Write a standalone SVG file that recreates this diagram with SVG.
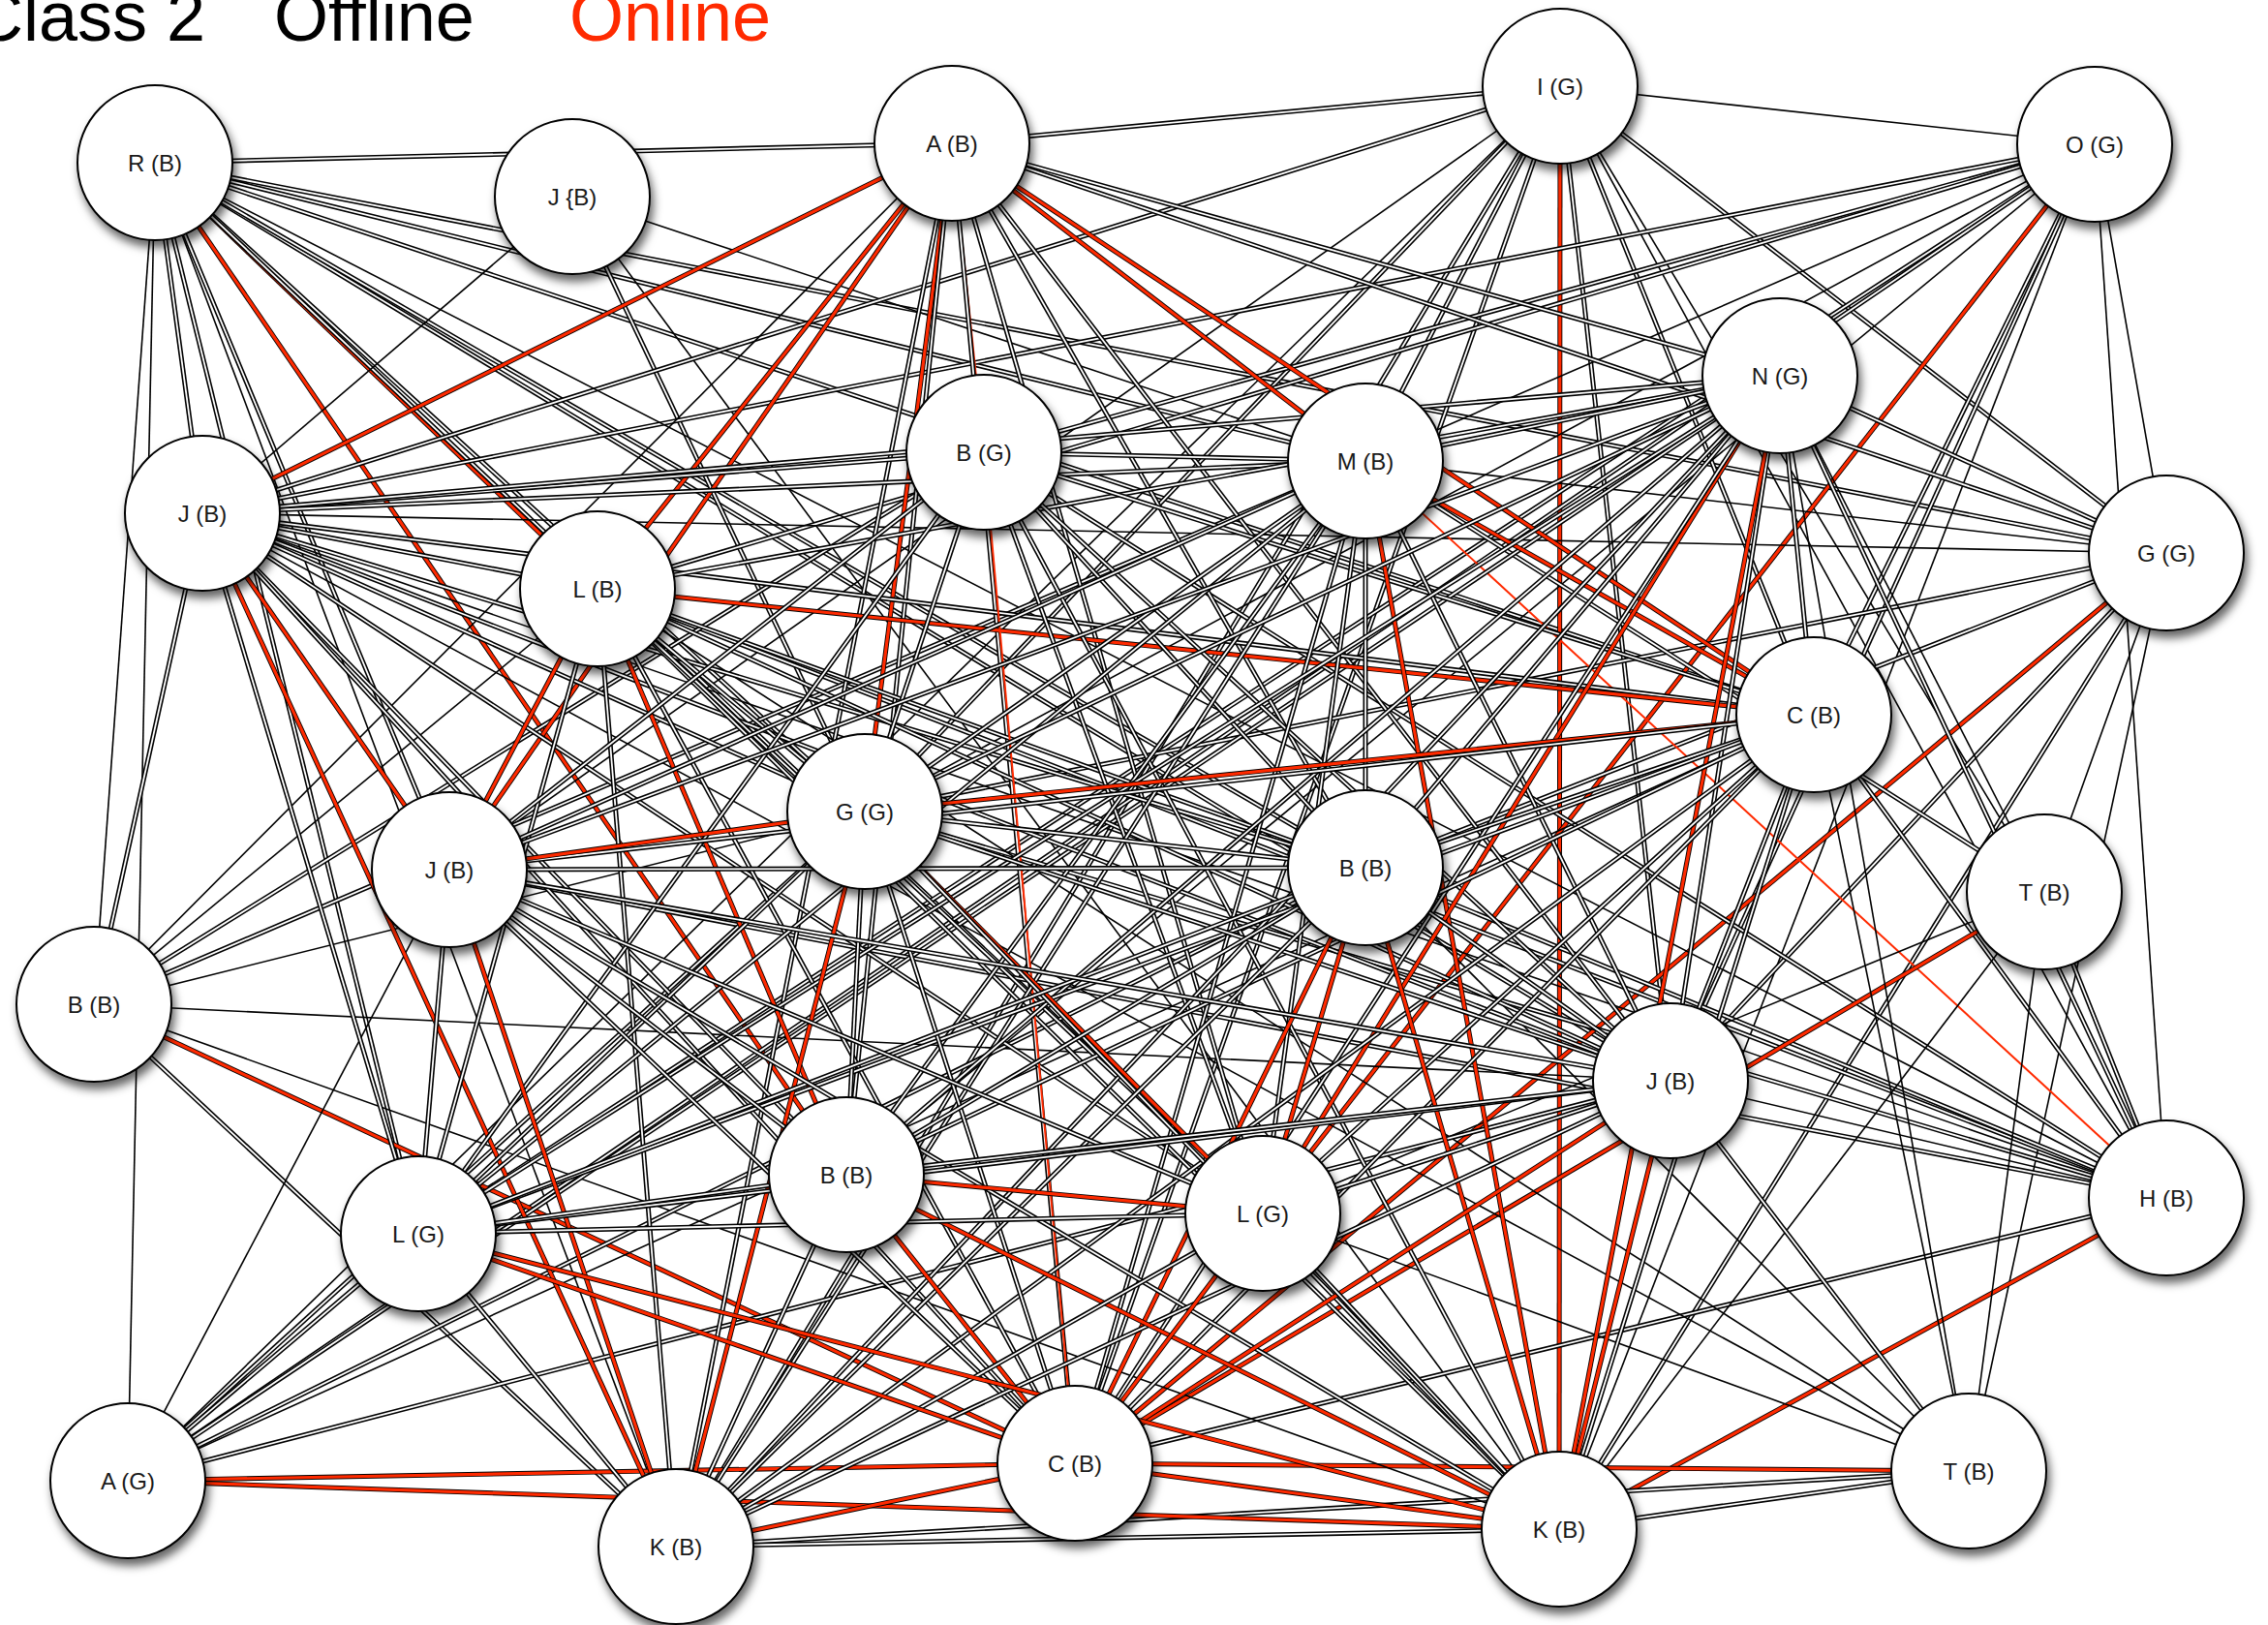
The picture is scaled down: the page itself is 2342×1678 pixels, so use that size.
<svg xmlns="http://www.w3.org/2000/svg" width="2342" height="1678" viewBox="0 0 2342 1678">
<defs>
<style>
.c{stroke:#000;stroke-width:5;fill:none}
.w{stroke:#fff;stroke-width:1.8;fill:none}
.rc{stroke:#ff2a00;stroke-width:3.2;fill:none}
.s{stroke:#000;stroke-width:1.6;fill:none}
.q{stroke:#ff2a00;stroke-width:2;fill:none}
.node circle{fill:#fff;stroke:#000;stroke-width:2;filter:url(#sh)}
.node text{font-family:"Liberation Sans",Arial,sans-serif;font-size:24px;fill:#1a1a1a;text-anchor:middle}
.title{font-family:"Liberation Sans",Arial,sans-serif;font-size:72px}
</style>
<filter id="sh" x="-30%" y="-30%" width="170%" height="170%">
<feDropShadow dx="3" dy="7" stdDeviation="5" flood-color="#000" flood-opacity="0.6"/>
</filter>
</defs>
<rect width="2342" height="1678" fill="#fff"/>
<g id="legend">
<text class="title" x="-28" y="42" fill="#000">Class 2</text>
<text class="title" x="283" y="42" fill="#000">Offline</text>
<text class="title" x="588" y="42" fill="#ff2a00">Online</text>
</g>
<g id="connectors">
<path class="c" d="M160 168L983 148"/><path class="w" d="M160 168L983 148"/>
<path class="c" d="M160 168L2237 571"/><path class="w" d="M160 168L2237 571"/>
<path class="c" d="M160 168L1410 476"/><path class="w" d="M160 168L1410 476"/>
<path class="c" d="M160 168L1873 738"/><path class="w" d="M160 168L1873 738"/>
<path class="c" d="M160 168L1725 1116"/><path class="w" d="M160 168L1725 1116"/>
<path class="c" d="M160 168L1410 896"/><path class="w" d="M160 168L1410 896"/>
<path class="c" d="M160 168L617 608"/><path class="rc" d="M160 168L617 608"/>
<path class="c" d="M160 168L893 838"/><path class="w" d="M160 168L893 838"/>
<path class="c" d="M160 168L874 1213"/><path class="rc" d="M160 168L874 1213"/>
<path class="c" d="M160 168L464 898"/><path class="w" d="M160 168L464 898"/>
<path class="s" d="M160 168L698 1597"/>
<path class="c" d="M160 168L432 1274"/><path class="w" d="M160 168L432 1274"/>
<path class="c" d="M160 168L209 530"/><path class="w" d="M160 168L209 530"/>
<path class="s" d="M160 168L97 1037"/>
<path class="s" d="M160 168L132 1529"/>
<path class="c" d="M160 168L1304 1253"/><path class="w" d="M160 168L1304 1253"/>
<path class="s" d="M591 203L1410 476"/>
<path class="c" d="M591 203L893 838"/><path class="w" d="M591 203L893 838"/>
<path class="s" d="M591 203L1610 1579"/>
<path class="s" d="M591 203L209 530"/>
<path class="c" d="M1611 89L983 148"/><path class="w" d="M1611 89L983 148"/>
<path class="c" d="M1611 89L209 530"/><path class="w" d="M1611 89L209 530"/>
<path class="s" d="M1611 89L464 898"/>
<path class="c" d="M1611 89L893 838"/><path class="w" d="M1611 89L893 838"/>
<path class="s" d="M1611 89L132 1529"/>
<path class="c" d="M1611 89L1410 476"/><path class="w" d="M1611 89L1410 476"/>
<path class="c" d="M1611 89L698 1597"/><path class="w" d="M1611 89L698 1597"/>
<path class="c" d="M1611 89L1110 1511"/><path class="w" d="M1611 89L1110 1511"/>
<path class="c" d="M1611 89L1610 1579"/><path class="rc" d="M1611 89L1610 1579"/>
<path class="c" d="M1611 89L1725 1116"/><path class="w" d="M1611 89L1725 1116"/>
<path class="c" d="M1611 89L1873 738"/><path class="w" d="M1611 89L1873 738"/>
<path class="s" d="M1611 89L2237 1237"/>
<path class="c" d="M1611 89L2237 571"/><path class="w" d="M1611 89L2237 571"/>
<path class="s" d="M1611 89L2163 149"/>
<path class="s" d="M1611 89L2111 921"/>
<path class="c" d="M2163 149L209 530"/><path class="w" d="M2163 149L209 530"/>
<path class="c" d="M2163 149L1016 467"/><path class="w" d="M2163 149L1016 467"/>
<path class="c" d="M2163 149L617 608"/><path class="w" d="M2163 149L617 608"/>
<path class="s" d="M2163 149L1410 476"/>
<path class="s" d="M2163 149L893 838"/>
<path class="c" d="M2163 149L432 1274"/><path class="w" d="M2163 149L432 1274"/>
<path class="c" d="M2163 149L132 1529"/><path class="w" d="M2163 149L132 1529"/>
<path class="s" d="M2163 149L874 1213"/>
<path class="c" d="M2163 149L1304 1253"/><path class="rc" d="M2163 149L1304 1253"/>
<path class="c" d="M2163 149L1873 738"/><path class="w" d="M2163 149L1873 738"/>
<path class="c" d="M2163 149L1725 1116"/><path class="w" d="M2163 149L1725 1116"/>
<path class="s" d="M2163 149L1610 1579"/>
<path class="s" d="M2163 149L2237 1237"/>
<path class="s" d="M2163 149L2237 571"/>
<path class="c" d="M2237 571L1838 388"/><path class="w" d="M2237 571L1838 388"/>
<path class="c" d="M2237 571L983 148"/><path class="w" d="M2237 571L983 148"/>
<path class="s" d="M2237 571L1410 476"/>
<path class="s" d="M2237 571L209 530"/>
<path class="c" d="M2237 571L893 838"/><path class="w" d="M2237 571L893 838"/>
<path class="c" d="M2237 571L1410 896"/><path class="w" d="M2237 571L1410 896"/>
<path class="c" d="M2237 571L1110 1511"/><path class="rc" d="M2237 571L1110 1511"/>
<path class="c" d="M2237 571L1725 1116"/><path class="w" d="M2237 571L1725 1116"/>
<path class="c" d="M2237 571L1610 1579"/><path class="w" d="M2237 571L1610 1579"/>
<path class="s" d="M2237 571L2033 1519"/>
<path class="s" d="M2237 571L2111 921"/>
<path class="q" d="M2237 1237L1410 476"/>
<path class="c" d="M2237 1237L1016 467"/><path class="w" d="M2237 1237L1016 467"/>
<path class="s" d="M2237 1237L160 168"/>
<path class="c" d="M2237 1237L617 608"/><path class="w" d="M2237 1237L617 608"/>
<path class="c" d="M2237 1237L1410 896"/><path class="w" d="M2237 1237L1410 896"/>
<path class="s" d="M2237 1237L209 530"/>
<path class="c" d="M2237 1237L893 838"/><path class="w" d="M2237 1237L893 838"/>
<path class="c" d="M2237 1237L464 898"/><path class="w" d="M2237 1237L464 898"/>
<path class="c" d="M2237 1237L1873 738"/><path class="w" d="M2237 1237L1873 738"/>
<path class="c" d="M2237 1237L1110 1511"/><path class="w" d="M2237 1237L1110 1511"/>
<path class="c" d="M2237 1237L1610 1579"/><path class="rc" d="M2237 1237L1610 1579"/>
<path class="c" d="M2237 1237L2111 921"/><path class="w" d="M2237 1237L2111 921"/>
<path class="s" d="M2237 1237L1725 1116"/>
<path class="s" d="M2111 921L1838 388"/>
<path class="c" d="M2111 921L1410 476"/><path class="w" d="M2111 921L1410 476"/>
<path class="c" d="M2111 921L1110 1511"/><path class="rc" d="M2111 921L1110 1511"/>
<path class="s" d="M2111 921L1304 1253"/>
<path class="s" d="M2111 921L1610 1579"/>
<path class="s" d="M2111 921L2033 1519"/>
<path class="c" d="M2033 1519L1110 1511"/><path class="rc" d="M2033 1519L1110 1511"/>
<path class="c" d="M2033 1519L1610 1579"/><path class="w" d="M2033 1519L1610 1579"/>
<path class="c" d="M2033 1519L1725 1116"/><path class="w" d="M2033 1519L1725 1116"/>
<path class="s" d="M2033 1519L617 608"/>
<path class="s" d="M2033 1519L209 530"/>
<path class="s" d="M2033 1519L1304 1253"/>
<path class="s" d="M2033 1519L1410 896"/>
<path class="s" d="M2033 1519L1873 738"/>
<path class="s" d="M2033 1519L1838 388"/>
<path class="c" d="M2033 1519L698 1597"/><path class="w" d="M2033 1519L698 1597"/>
<path class="c" d="M97 1037L209 530"/><path class="w" d="M97 1037L209 530"/>
<path class="s" d="M97 1037L983 148"/>
<path class="s" d="M97 1037L617 608"/>
<path class="c" d="M97 1037L1016 467"/><path class="w" d="M97 1037L1016 467"/>
<path class="c" d="M97 1037L1410 476"/><path class="w" d="M97 1037L1410 476"/>
<path class="s" d="M97 1037L893 838"/>
<path class="s" d="M97 1037L1725 1116"/>
<path class="c" d="M97 1037L1110 1511"/><path class="rc" d="M97 1037L1110 1511"/>
<path class="s" d="M97 1037L1610 1579"/>
<path class="c" d="M97 1037L698 1597"/><path class="w" d="M97 1037L698 1597"/>
<path class="s" d="M132 1529L464 898"/>
<path class="c" d="M132 1529L893 838"/><path class="w" d="M132 1529L893 838"/>
<path class="c" d="M132 1529L1410 896"/><path class="w" d="M132 1529L1410 896"/>
<path class="s" d="M132 1529L1873 738"/>
<path class="c" d="M132 1529L1725 1116"/><path class="w" d="M132 1529L1725 1116"/>
<path class="c" d="M132 1529L1110 1511"/><path class="rc" d="M132 1529L1110 1511"/>
<path class="c" d="M132 1529L1610 1579"/><path class="rc" d="M132 1529L1610 1579"/>
<path class="c" d="M132 1529L432 1274"/><path class="w" d="M132 1529L432 1274"/>
<path class="c" d="M132 1529L1838 388"/><path class="w" d="M132 1529L1838 388"/>
<path class="c" d="M983 148L209 530"/><path class="rc" d="M983 148L209 530"/>
<path class="c" d="M983 148L617 608"/><path class="rc" d="M983 148L617 608"/>
<path class="c" d="M983 148L464 898"/><path class="rc" d="M983 148L464 898"/>
<path class="c" d="M983 148L893 838"/><path class="rc" d="M983 148L893 838"/>
<path class="q" d="M983 148L1016 467"/>
<path class="c" d="M983 148L1410 476"/><path class="rc" d="M983 148L1410 476"/>
<path class="c" d="M983 148L1873 738"/><path class="rc" d="M983 148L1873 738"/>
<path class="c" d="M983 148L1410 896"/><path class="w" d="M983 148L1410 896"/>
<path class="c" d="M983 148L1725 1116"/><path class="w" d="M983 148L1725 1116"/>
<path class="c" d="M983 148L1304 1253"/><path class="w" d="M983 148L1304 1253"/>
<path class="c" d="M983 148L1110 1511"/><path class="w" d="M983 148L1110 1511"/>
<path class="c" d="M983 148L698 1597"/><path class="w" d="M983 148L698 1597"/>
<path class="c" d="M983 148L874 1213"/><path class="w" d="M983 148L874 1213"/>
<path class="c" d="M983 148L1838 388"/><path class="w" d="M983 148L1838 388"/>
<path class="c" d="M209 530L617 608"/><path class="w" d="M209 530L617 608"/>
<path class="c" d="M209 530L1016 467"/><path class="w" d="M209 530L1016 467"/>
<path class="c" d="M209 530L1410 476"/><path class="w" d="M209 530L1410 476"/>
<path class="c" d="M209 530L1838 388"/><path class="w" d="M209 530L1838 388"/>
<path class="c" d="M209 530L1873 738"/><path class="w" d="M209 530L1873 738"/>
<path class="c" d="M209 530L893 838"/><path class="w" d="M209 530L893 838"/>
<path class="c" d="M209 530L1410 896"/><path class="w" d="M209 530L1410 896"/>
<path class="c" d="M209 530L464 898"/><path class="rc" d="M209 530L464 898"/>
<path class="c" d="M209 530L1725 1116"/><path class="w" d="M209 530L1725 1116"/>
<path class="c" d="M209 530L432 1274"/><path class="w" d="M209 530L432 1274"/>
<path class="c" d="M209 530L698 1597"/><path class="rc" d="M209 530L698 1597"/>
<path class="c" d="M209 530L874 1213"/><path class="w" d="M209 530L874 1213"/>
<path class="c" d="M209 530L1304 1253"/><path class="w" d="M209 530L1304 1253"/>
<path class="c" d="M209 530L1110 1511"/><path class="w" d="M209 530L1110 1511"/>
<path class="c" d="M617 608L1838 388"/><path class="w" d="M617 608L1838 388"/>
<path class="c" d="M617 608L1873 738"/><path class="rc" d="M617 608L1873 738"/>
<path class="c" d="M617 608L893 838"/><path class="w" d="M617 608L893 838"/>
<path class="c" d="M617 608L1410 896"/><path class="w" d="M617 608L1410 896"/>
<path class="c" d="M617 608L464 898"/><path class="rc" d="M617 608L464 898"/>
<path class="c" d="M617 608L1725 1116"/><path class="w" d="M617 608L1725 1116"/>
<path class="c" d="M617 608L874 1213"/><path class="rc" d="M617 608L874 1213"/>
<path class="c" d="M617 608L1110 1511"/><path class="w" d="M617 608L1110 1511"/>
<path class="c" d="M617 608L698 1597"/><path class="w" d="M617 608L698 1597"/>
<path class="c" d="M617 608L1610 1579"/><path class="w" d="M617 608L1610 1579"/>
<path class="c" d="M617 608L432 1274"/><path class="w" d="M617 608L432 1274"/>
<path class="c" d="M617 608L1304 1253"/><path class="w" d="M617 608L1304 1253"/>
<path class="c" d="M1016 467L1410 476"/><path class="w" d="M1016 467L1410 476"/>
<path class="c" d="M1016 467L893 838"/><path class="w" d="M1016 467L893 838"/>
<path class="q" d="M1016 467L1110 1511"/>
<path class="c" d="M1016 467L464 898"/><path class="w" d="M1016 467L464 898"/>
<path class="c" d="M1016 467L432 1274"/><path class="w" d="M1016 467L432 1274"/>
<path class="c" d="M1016 467L1410 896"/><path class="w" d="M1016 467L1410 896"/>
<path class="c" d="M1016 467L1725 1116"/><path class="w" d="M1016 467L1725 1116"/>
<path class="c" d="M1016 467L1304 1253"/><path class="w" d="M1016 467L1304 1253"/>
<path class="c" d="M1016 467L1610 1579"/><path class="w" d="M1016 467L1610 1579"/>
<path class="c" d="M1016 467L1873 738"/><path class="w" d="M1016 467L1873 738"/>
<path class="c" d="M1410 476L1838 388"/><path class="w" d="M1410 476L1838 388"/>
<path class="c" d="M1410 476L1873 738"/><path class="rc" d="M1410 476L1873 738"/>
<path class="c" d="M1410 476L1410 896"/><path class="w" d="M1410 476L1410 896"/>
<path class="c" d="M1410 476L1725 1116"/><path class="w" d="M1410 476L1725 1116"/>
<path class="c" d="M1410 476L893 838"/><path class="w" d="M1410 476L893 838"/>
<path class="c" d="M1410 476L464 898"/><path class="w" d="M1410 476L464 898"/>
<path class="c" d="M1410 476L432 1274"/><path class="w" d="M1410 476L432 1274"/>
<path class="c" d="M1410 476L874 1213"/><path class="w" d="M1410 476L874 1213"/>
<path class="c" d="M1410 476L1304 1253"/><path class="w" d="M1410 476L1304 1253"/>
<path class="c" d="M1410 476L1110 1511"/><path class="w" d="M1410 476L1110 1511"/>
<path class="c" d="M1410 476L698 1597"/><path class="w" d="M1410 476L698 1597"/>
<path class="c" d="M1410 476L1610 1579"/><path class="rc" d="M1410 476L1610 1579"/>
<path class="c" d="M1838 388L1873 738"/><path class="w" d="M1838 388L1873 738"/>
<path class="c" d="M1838 388L1725 1116"/><path class="w" d="M1838 388L1725 1116"/>
<path class="c" d="M1838 388L1610 1579"/><path class="rc" d="M1838 388L1610 1579"/>
<path class="c" d="M1838 388L1304 1253"/><path class="rc" d="M1838 388L1304 1253"/>
<path class="c" d="M1838 388L893 838"/><path class="w" d="M1838 388L893 838"/>
<path class="c" d="M1838 388L464 898"/><path class="w" d="M1838 388L464 898"/>
<path class="c" d="M1838 388L432 1274"/><path class="w" d="M1838 388L432 1274"/>
<path class="c" d="M1838 388L874 1213"/><path class="w" d="M1838 388L874 1213"/>
<path class="c" d="M1838 388L1110 1511"/><path class="w" d="M1838 388L1110 1511"/>
<path class="c" d="M1838 388L698 1597"/><path class="w" d="M1838 388L698 1597"/>
<path class="c" d="M1838 388L2237 1237"/><path class="w" d="M1838 388L2237 1237"/>
<path class="c" d="M1838 388L1410 896"/><path class="w" d="M1838 388L1410 896"/>
<path class="c" d="M1873 738L893 838"/><path class="rc" d="M1873 738L893 838"/>
<path class="c" d="M1873 738L1410 896"/><path class="w" d="M1873 738L1410 896"/>
<path class="c" d="M1873 738L464 898"/><path class="w" d="M1873 738L464 898"/>
<path class="c" d="M1873 738L1725 1116"/><path class="w" d="M1873 738L1725 1116"/>
<path class="c" d="M1873 738L1610 1579"/><path class="w" d="M1873 738L1610 1579"/>
<path class="c" d="M1873 738L1110 1511"/><path class="w" d="M1873 738L1110 1511"/>
<path class="c" d="M1873 738L1304 1253"/><path class="w" d="M1873 738L1304 1253"/>
<path class="c" d="M1873 738L874 1213"/><path class="w" d="M1873 738L874 1213"/>
<path class="c" d="M1873 738L432 1274"/><path class="w" d="M1873 738L432 1274"/>
<path class="c" d="M1873 738L698 1597"/><path class="w" d="M1873 738L698 1597"/>
<path class="c" d="M893 838L1410 896"/><path class="w" d="M893 838L1410 896"/>
<path class="c" d="M893 838L464 898"/><path class="rc" d="M893 838L464 898"/>
<path class="c" d="M893 838L432 1274"/><path class="w" d="M893 838L432 1274"/>
<path class="c" d="M893 838L874 1213"/><path class="w" d="M893 838L874 1213"/>
<path class="c" d="M893 838L1304 1253"/><path class="rc" d="M893 838L1304 1253"/>
<path class="c" d="M893 838L1110 1511"/><path class="w" d="M893 838L1110 1511"/>
<path class="c" d="M893 838L698 1597"/><path class="rc" d="M893 838L698 1597"/>
<path class="c" d="M893 838L1610 1579"/><path class="w" d="M893 838L1610 1579"/>
<path class="c" d="M893 838L1725 1116"/><path class="w" d="M893 838L1725 1116"/>
<path class="c" d="M1410 896L464 898"/><path class="w" d="M1410 896L464 898"/>
<path class="c" d="M1410 896L432 1274"/><path class="w" d="M1410 896L432 1274"/>
<path class="c" d="M1410 896L1725 1116"/><path class="w" d="M1410 896L1725 1116"/>
<path class="c" d="M1410 896L1304 1253"/><path class="rc" d="M1410 896L1304 1253"/>
<path class="c" d="M1410 896L874 1213"/><path class="w" d="M1410 896L874 1213"/>
<path class="c" d="M1410 896L1110 1511"/><path class="rc" d="M1410 896L1110 1511"/>
<path class="c" d="M1410 896L698 1597"/><path class="w" d="M1410 896L698 1597"/>
<path class="c" d="M1410 896L1610 1579"/><path class="rc" d="M1410 896L1610 1579"/>
<path class="c" d="M464 898L432 1274"/><path class="w" d="M464 898L432 1274"/>
<path class="c" d="M464 898L874 1213"/><path class="w" d="M464 898L874 1213"/>
<path class="c" d="M464 898L1304 1253"/><path class="w" d="M464 898L1304 1253"/>
<path class="c" d="M464 898L1110 1511"/><path class="w" d="M464 898L1110 1511"/>
<path class="c" d="M464 898L698 1597"/><path class="rc" d="M464 898L698 1597"/>
<path class="c" d="M464 898L1610 1579"/><path class="w" d="M464 898L1610 1579"/>
<path class="c" d="M464 898L1725 1116"/><path class="w" d="M464 898L1725 1116"/>
<path class="c" d="M1725 1116L432 1274"/><path class="w" d="M1725 1116L432 1274"/>
<path class="c" d="M1725 1116L874 1213"/><path class="w" d="M1725 1116L874 1213"/>
<path class="c" d="M1725 1116L1304 1253"/><path class="w" d="M1725 1116L1304 1253"/>
<path class="c" d="M1725 1116L1110 1511"/><path class="rc" d="M1725 1116L1110 1511"/>
<path class="c" d="M1725 1116L698 1597"/><path class="w" d="M1725 1116L698 1597"/>
<path class="c" d="M1725 1116L1610 1579"/><path class="rc" d="M1725 1116L1610 1579"/>
<path class="c" d="M874 1213L432 1274"/><path class="w" d="M874 1213L432 1274"/>
<path class="c" d="M874 1213L1304 1253"/><path class="rc" d="M874 1213L1304 1253"/>
<path class="c" d="M874 1213L1110 1511"/><path class="rc" d="M874 1213L1110 1511"/>
<path class="c" d="M874 1213L698 1597"/><path class="w" d="M874 1213L698 1597"/>
<path class="c" d="M874 1213L1610 1579"/><path class="rc" d="M874 1213L1610 1579"/>
<path class="c" d="M1304 1253L432 1274"/><path class="w" d="M1304 1253L432 1274"/>
<path class="c" d="M1304 1253L1110 1511"/><path class="rc" d="M1304 1253L1110 1511"/>
<path class="c" d="M1304 1253L698 1597"/><path class="w" d="M1304 1253L698 1597"/>
<path class="c" d="M1304 1253L1610 1579"/><path class="w" d="M1304 1253L1610 1579"/>
<path class="c" d="M432 1274L1110 1511"/><path class="rc" d="M432 1274L1110 1511"/>
<path class="c" d="M432 1274L698 1597"/><path class="w" d="M432 1274L698 1597"/>
<path class="c" d="M432 1274L1610 1579"/><path class="rc" d="M432 1274L1610 1579"/>
<path class="c" d="M1110 1511L698 1597"/><path class="rc" d="M1110 1511L698 1597"/>
<path class="c" d="M1110 1511L1610 1579"/><path class="rc" d="M1110 1511L1610 1579"/>
<path class="c" d="M698 1597L1610 1579"/><path class="w" d="M698 1597L1610 1579"/>
</g>
<g id="nodes">
<g id="n-r" class="node"><circle cx="160" cy="168" r="80"/><text x="160" y="177">R (B)</text></g>
<g id="n-j1" class="node"><circle cx="591" cy="203" r="80"/><text x="591" y="212">J {B)</text></g>
<g id="n-a" class="node"><circle cx="983" cy="148" r="80"/><text x="983" y="157">A (B)</text></g>
<g id="n-i" class="node"><circle cx="1611" cy="89" r="80"/><text x="1611" y="98">I (G)</text></g>
<g id="n-o" class="node"><circle cx="2163" cy="149" r="80"/><text x="2163" y="158">O (G)</text></g>
<g id="n-n" class="node"><circle cx="1838" cy="388" r="80"/><text x="1838" y="397">N (G)</text></g>
<g id="n-bg" class="node"><circle cx="1016" cy="467" r="80"/><text x="1016" y="476">B (G)</text></g>
<g id="n-m" class="node"><circle cx="1410" cy="476" r="80"/><text x="1410" y="485">M (B)</text></g>
<g id="n-j2" class="node"><circle cx="209" cy="530" r="80"/><text x="209" y="539">J (B)</text></g>
<g id="n-lb" class="node"><circle cx="617" cy="608" r="80"/><text x="617" y="617">L (B)</text></g>
<g id="n-gg2" class="node"><circle cx="2237" cy="571" r="80"/><text x="2237" y="580">G (G)</text></g>
<g id="n-c1" class="node"><circle cx="1873" cy="738" r="80"/><text x="1873" y="747">C (B)</text></g>
<g id="n-gg" class="node"><circle cx="893" cy="838" r="80"/><text x="893" y="847">G (G)</text></g>
<g id="n-bb1" class="node"><circle cx="1410" cy="896" r="80"/><text x="1410" y="905">B (B)</text></g>
<g id="n-j3" class="node"><circle cx="464" cy="898" r="80"/><text x="464" y="907">J (B)</text></g>
<g id="n-t1" class="node"><circle cx="2111" cy="921" r="80"/><text x="2111" y="930">T (B)</text></g>
<g id="n-bb0" class="node"><circle cx="97" cy="1037" r="80"/><text x="97" y="1046">B (B)</text></g>
<g id="n-j4" class="node"><circle cx="1725" cy="1116" r="80"/><text x="1725" y="1125">J (B)</text></g>
<g id="n-bb2" class="node"><circle cx="874" cy="1213" r="80"/><text x="874" y="1222">B (B)</text></g>
<g id="n-lg1" class="node"><circle cx="1304" cy="1253" r="80"/><text x="1304" y="1262">L (G)</text></g>
<g id="n-lg0" class="node"><circle cx="432" cy="1274" r="80"/><text x="432" y="1283">L (G)</text></g>
<g id="n-h" class="node"><circle cx="2237" cy="1237" r="80"/><text x="2237" y="1246">H (B)</text></g>
<g id="n-ag" class="node"><circle cx="132" cy="1529" r="80"/><text x="132" y="1538">A (G)</text></g>
<g id="n-c2" class="node"><circle cx="1110" cy="1511" r="80"/><text x="1110" y="1520">C (B)</text></g>
<g id="n-k1" class="node"><circle cx="698" cy="1597" r="80"/><text x="698" y="1606">K (B)</text></g>
<g id="n-k2" class="node"><circle cx="1610" cy="1579" r="80"/><text x="1610" y="1588">K (B)</text></g>
<g id="n-t2" class="node"><circle cx="2033" cy="1519" r="80"/><text x="2033" y="1528">T (B)</text></g>
</g>
</svg>
